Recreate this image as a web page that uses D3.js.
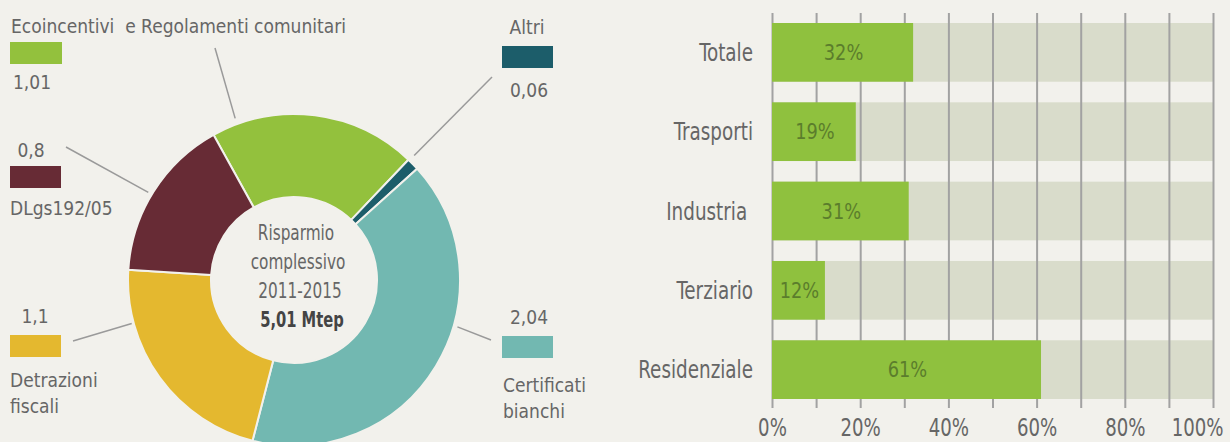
<!DOCTYPE html>
<html>
<head>
<meta charset="utf-8">
<script src="https://cdn.jsdelivr.net/npm/d3@7"></script>
<style>
  html, body { margin: 0; padding: 0; background: #f2f1ec; }
  svg { display: block; }
  text { font-family: "DejaVu Sans Condensed", "DejaVu Sans", sans-serif; font-stretch: condensed; fill: #666; }
</style>
</head>
<body>
<div id="chart"></div>
<script>
// donut: savings by instrument 2011-2015 (Mtep)
const sliceNames = ["Ecoincentivi  e Regolamenti comunitari", "Altri", "Certificati bianchi", "Detrazioni fiscali", "DLgs192/05"];
const sliceValues = [1.01, 0.06, 2.04, 1.1, 0.8];
const sliceColors = ["#93c13d", "#1c5d6a", "#72b8b1", "#e4b82f", "#672b35"];
const centerLines = ["Risparmio", "complessivo", "2011-2015"];

// bars: share of target reached by sector
const sectors = ["Totale", "Trasporti", "Industria ", "Terziario", "Residenziale"];
const shares = [0.32, 0.19, 0.31, 0.12, 0.61];
const xTicks = [0, 0.1, 0.2, 0.3, 0.4, 0.5, 0.6, 0.7, 0.8, 0.9, 1];

// where legend boxes sit around the donut (layout only)
const legendLayout = [
  { x: 10, y: 42, w: 52, nameX: 11, nameY: 33, anchor: "start", valueX: 32, valueY: 89, from: [215, 48], angle: -20, r: 172, wrap: false },
  { x: 502, y: 46, w: 51, nameX: 527, nameY: 34, anchor: "middle", valueX: 529, valueY: 97, from: [492, 77], angle: 44, r: 173, wrap: false },
  { x: 502, y: 336, w: 51, nameX: 503, nameY: 392, anchor: "start", valueX: 529, valueY: 324, from: [491, 340], angle: 106, r: 170, wrap: true },
  { x: 10, y: 335, w: 51, nameX: 10, nameY: 387, anchor: "start", valueX: 35, valueY: 323, from: [73, 341], angle: -105, r: 168, wrap: true },
  { x: 10, y: 166, w: 51, nameX: 10, nameY: 215, anchor: "start", valueX: 31, valueY: 157, from: [66, 147], angle: -59, r: 170, wrap: false }
];

const width = 1230, height = 442;
const fmtIt = v => d3.format("~r")(+v.toFixed(2)).replace(".", ",");

const svg = d3.select("#chart").append("svg")
  .attr("width", width)
  .attr("height", height);

// narrower glyphs, like the condensed face of the original
function squeeze(sel, x, y, sx) {
  sel.attr("x", 0).attr("y", 0)
    .attr("transform", `translate(${x},${y}) scale(${sx},1)`);
}

// ---------- donut ----------
const cx = 294, cy = 280, outerR = 166, innerR = 83;
const start = -29 * Math.PI / 180;

const pie = d3.pie().sort(null).value(d => d).startAngle(start).endAngle(start + 2 * Math.PI);
const arc = d3.arc().innerRadius(innerR).outerRadius(outerR);

const donut = svg.append("g").attr("transform", `translate(${cx},${cy})`);

donut.selectAll("path")
  .data(pie(sliceValues))
  .enter()
  .append("path")
  .attr("d", arc)
  .attr("fill", (d, i) => sliceColors[i])
  .attr("stroke", "#f2f1ec")
  .attr("stroke-width", 2);

centerLines.forEach((t, i) => {
  donut.append("text")
    .attr("text-anchor", "middle")
    .attr("font-size", "20.5px")
    .text(t)
    .call(squeeze, 2 + i * 2, -40 + i * 29, 0.83);
});
donut.append("text")
  .attr("text-anchor", "middle")
  .attr("font-size", "21px")
  .attr("font-weight", "bold")
  .style("fill", "#444")
  .text(fmtIt(d3.sum(sliceValues)) + " Mtep")
  .call(squeeze, 8, -40 + 3 * 29, 0.78);

// legend + leader lines
const leg = svg.append("g");
legendLayout.forEach((L, i) => {
  const end = d3.pointRadial(L.angle * Math.PI / 180, L.r);
  leg.append("line")
    .attr("x1", L.from[0]).attr("y1", L.from[1])
    .attr("x2", cx + end[0]).attr("y2", cy + end[1])
    .attr("stroke", "#9a9a9a")
    .attr("stroke-width", 1.5);

  leg.append("rect")
    .attr("x", L.x).attr("y", L.y)
    .attr("width", L.w).attr("height", 22)
    .attr("fill", sliceColors[i]);

  leg.append("text")
    .attr("x", L.valueX)
    .attr("y", L.valueY)
    .attr("text-anchor", "middle")
    .attr("font-size", "19px")
    .text(fmtIt(sliceValues[i]));

  const lines = L.wrap ? sliceNames[i].split(" ") : [sliceNames[i]];
  lines.forEach((ln, j) => {
    leg.append("text")
      .attr("x", L.nameX)
      .attr("y", L.nameY + j * 25.5)
      .attr("text-anchor", L.anchor)
      .attr("font-size", "19px")
      .style("white-space", "pre")
      .text(ln);
  });
});

// ---------- bar chart ----------
const x = d3.scaleLinear().domain([0, 1]).range([772, 1213]);
const y = d3.scaleBand().domain(sectors).range([23, 399]).paddingInner(0.26).paddingOuter(0);

const bars = svg.append("g");

bars.selectAll("rect.bg")
  .data(sectors)
  .enter()
  .append("rect")
  .attr("class", "bg")
  .attr("x", x(0))
  .attr("y", d => y(d))
  .attr("width", x(1) - x(0))
  .attr("height", y.bandwidth())
  .attr("fill", "#d9dccb");

const axis = bars.append("g")
  .attr("transform", "translate(0,408)")
  .call(d3.axisBottom(x)
    .tickValues(xTicks)
    .tickSize(-395)
    .tickPadding(11)
    .tickFormat(d => Math.round(d * 10) % 2 === 0 ? d3.format(".0%")(d) : ""));
axis.attr("font-family", null).attr("font-size", null);
axis.select(".domain").remove();
axis.selectAll(".tick line").attr("stroke", "#a2a2a2").attr("stroke-width", 2);
axis.selectAll(".tick text")
  .attr("font-size", "24px")
  .attr("transform", "scale(0.84,1)");
axis.selectAll(".tick text").filter(d => d === 1)
  .attr("text-anchor", "end")
  .attr("x", 12);

bars.selectAll("rect.val")
  .data(shares)
  .enter()
  .append("rect")
  .attr("class", "val")
  .attr("x", x(0))
  .attr("y", (d, i) => y(sectors[i]))
  .attr("width", d => x(d) - x(0))
  .attr("height", y.bandwidth())
  .attr("fill", "#8fc13e");

bars.selectAll("text.pct")
  .data(shares)
  .enter()
  .append("text")
  .attr("class", "pct")
  .attr("dy", "0.36em")
  .attr("text-anchor", "middle")
  .attr("font-size", "21.5px")
  .style("fill", "#5b7d2c")
  .text(d => d3.format(".0%")(d))
  .each(function (d, i) {
    d3.select(this).call(squeeze, (x(0) + x(d)) / 2 + 1, y(sectors[i]) + y.bandwidth() / 2, 0.92);
  });

bars.selectAll("text.cat")
  .data(sectors)
  .enter()
  .append("text")
  .attr("class", "cat")
  .attr("dy", "0.36em")
  .attr("text-anchor", "end")
  .attr("font-size", "24px")
  .style("white-space", "pre")
  .text(d => d)
  .each(function (d) {
    d3.select(this).call(squeeze, 753, y(d) + y.bandwidth() / 2, 0.85);
  });
</script>
</body>
</html>
